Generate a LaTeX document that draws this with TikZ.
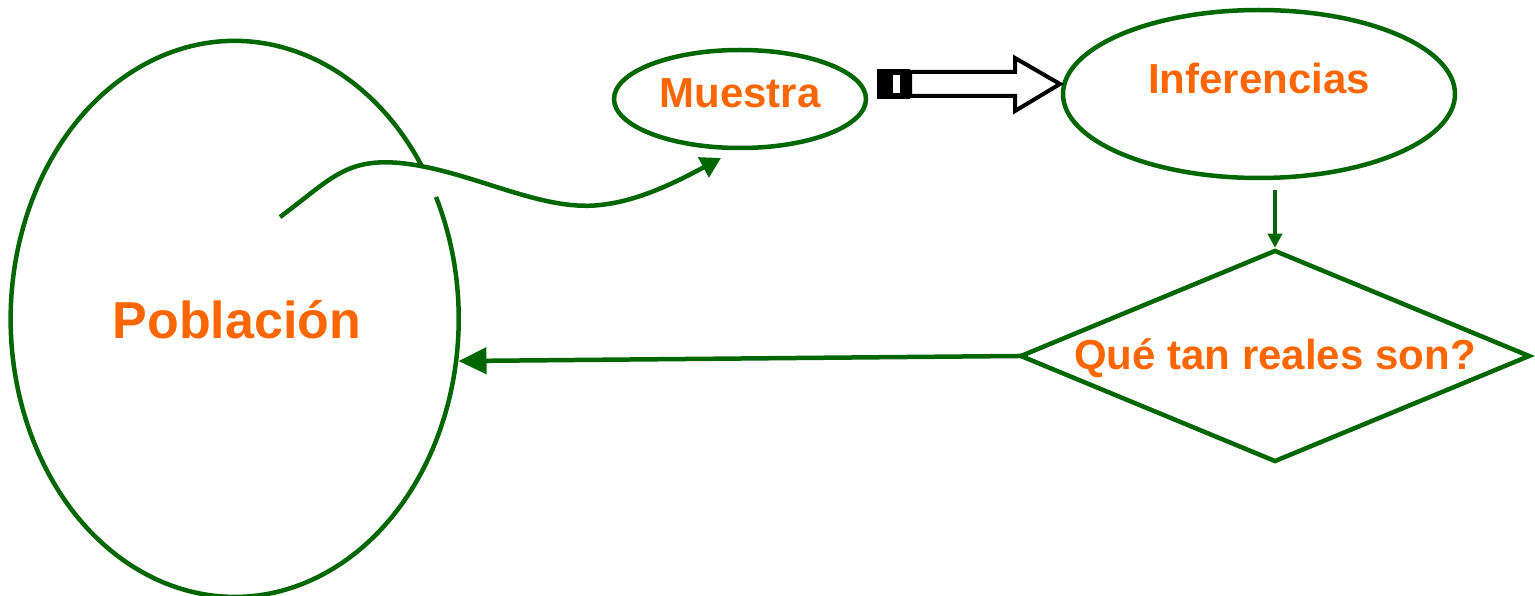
\documentclass[tikz,border=0pt]{standalone}
\usepackage{fontspec}
\setmainfont{Liberation Sans}
\usetikzlibrary{shapes.geometric,arrows.meta}
\definecolor{dkgreen}{RGB}{0,102,0}
\definecolor{txtorange}{RGB}{255,102,0}
\begin{document}
\begin{tikzpicture}[x=1pt,y=-1pt,
  gline/.style={draw=dkgreen,line width=4.5pt},
  ell/.style={ellipse,gline,inner sep=0pt},
  lbl/.style={text=txtorange,font=\bfseries\fontsize{42}{42}\selectfont,inner sep=0pt},
]
\useasboundingbox (0,0) rectangle (1535,596);
% Poblacion
\node[ellipse,minimum width=448pt,minimum height=556pt,inner sep=0pt] (pob) at (237,318) {};
\draw[gline] (436,197) arc[start angle=-26,end angle=326.6,x radius=224,y radius=278];
\node[lbl,font=\bfseries\fontsize{52}{52}\selectfont] at (237,320) {Población};
% Muestra
\node[ell,minimum width=252pt,minimum height=98pt] (mue) at (740,99) {};
\node[lbl] at (740,93) {Muestra};
% Inferencias
\node[ell,minimum width=392pt,minimum height=168pt] (inf) at (1259,94) {};
\node[lbl] at (1259,78) {Inferencias};
% Diamond
\node[diamond,gline,aspect=2.4,minimum width=510pt,minimum height=212pt,inner sep=0pt] (dia) at (1275,356) {};
\node[lbl] at (1275,358) {Qué tan reales son?};
% curve
\coordinate (cs) at (280,217);
\coordinate (ce) at (721,158);
\draw[draw=dkgreen,line width=4.5pt,-{Triangle[length=20pt,width=22pt]}]
  (cs) .. controls (330,180) and (345,158) .. (400,163)
       .. controls (470,170) and (540,212) .. (600,205)
       .. controls (640,201) and (680,180) .. (ce);
% block arrow
\fill[black] (877,69) rectangle (910,99);
\fill[white] (893,75) rectangle (900,93);
\draw[line width=4pt,line join=miter,fill=white]
  (910,72) -- (1015,72) -- (1015,58) -- (1060,84) -- (1015,111) -- (1015,96) -- (910,96) -- cycle;
% down arrow
\draw[draw=dkgreen,line width=4.5pt,-{Triangle[length=14pt,width=14pt]},shorten <=10pt] (inf.south -| dia.north) -- (dia.north);
% back arrow
\draw[draw=dkgreen,line width=4.5pt,-{Triangle[length=28pt,width=26pt]},shorten <=-10pt] (dia.west) -- (pob.-11);
\end{tikzpicture}
\end{document}
